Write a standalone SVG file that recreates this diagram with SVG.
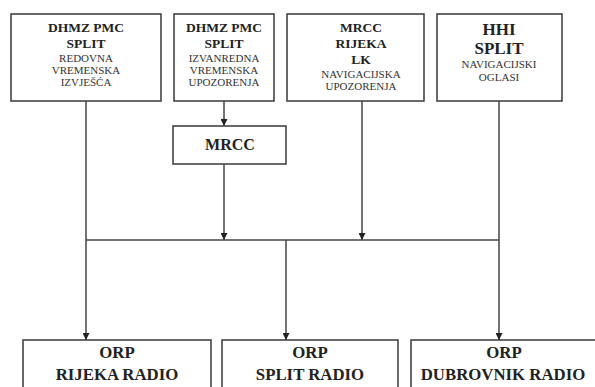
<svg xmlns="http://www.w3.org/2000/svg" width="595" height="387" viewBox="0 0 595 387">
<style>
.box{fill:#fff;stroke:#444;stroke-width:1.6}
.t{font-family:"Liberation Serif",serif;font-weight:bold;fill:#222;text-anchor:middle}
.b{font-size:13.5px}
.s{font-size:11px;font-weight:normal;fill:#333}
.r{font-size:16.8px}
.c{stroke:#444;stroke-width:1.5;fill:none}
</style>
<defs>
<marker id="ah" viewBox="0 0 10 10" refX="10" refY="5" markerWidth="7" markerHeight="7" orient="auto" markerUnits="userSpaceOnUse">
<path d="M0,0 L10,5 L0,10 Z" fill="#222"/>
</marker>
</defs>
<rect width="595" height="387" fill="#fff"/>
<g id="n1">
<rect class="box" x="11" y="14" width="150" height="87"/>
<text class="t b" x="86" y="32">DHMZ PMC</text>
<text class="t b" x="86" y="48">SPLIT</text>
<text class="t s" x="86" y="62">REDOVNA</text>
<text class="t s" x="86" y="74">VREMENSKA</text>
<text class="t s" x="86" y="86">IZVJEŠĆA</text>
</g>
<g id="n2">
<rect class="box" x="174" y="14" width="100" height="87"/>
<text class="t b" x="224" y="32">DHMZ PMC</text>
<text class="t b" x="224" y="48">SPLIT</text>
<text class="t s" x="224" y="62">IZVANREDNA</text>
<text class="t s" x="224" y="74">VREMENSKA</text>
<text class="t s" x="224" y="86">UPOZORENJA</text>
</g>
<g id="n3">
<rect class="box" x="287" y="14" width="137" height="87"/>
<text class="t b" x="361" y="32">MRCC</text>
<text class="t b" x="361" y="48">RIJEKA</text>
<text class="t b" x="361" y="64">LK</text>
<text class="t s" x="361" y="78">NAVIGACIJSKA</text>
<text class="t s" x="361" y="90">UPOZORENJA</text>
</g>
<g id="n4">
<rect class="box" x="437" y="14" width="125" height="87"/>
<text class="t" style="font-size:17px" x="499" y="35">HHI</text>
<text class="t" style="font-size:17px" x="499" y="54">SPLIT</text>
<text class="t s" x="499" y="68">NAVIGACIJSKI</text>
<text class="t s" x="499" y="81">OGLASI</text>
</g>
<g id="mrcc">
<rect class="box" x="173" y="126" width="113" height="38"/>
<text class="t" style="font-size:16px" x="230" y="150">MRCC</text>
</g>
<g id="r1">
<rect class="box" x="23" y="340" width="188" height="60"/>
<text class="t r" x="117" y="358">ORP</text>
<text class="t r" x="117" y="380">RIJEKA RADIO</text>
</g>
<g id="r2">
<rect class="box" x="222" y="340" width="176" height="60"/>
<text class="t r" x="310" y="358">ORP</text>
<text class="t r" x="310" y="380">SPLIT RADIO</text>
</g>
<g id="r3">
<rect class="box" x="411" y="340" width="200" height="60"/>
<text class="t r" x="504" y="358">ORP</text>
<text class="t r" x="503" y="380">DUBROVNIK RADIO</text>
</g>
<g id="connectors">
<line class="c" x1="224" y1="101" x2="224" y2="126" marker-end="url(#ah)"/>
<line class="c" x1="224" y1="164" x2="224" y2="240" marker-end="url(#ah)"/>
<line class="c" x1="362" y1="101" x2="362" y2="240" marker-end="url(#ah)"/>
<line class="c" x1="86" y1="101" x2="86" y2="340" marker-end="url(#ah)"/>
<line class="c" x1="499" y1="101" x2="499" y2="340" marker-end="url(#ah)"/>
<line class="c" x1="86" y1="240" x2="499" y2="240"/>
<line class="c" x1="286" y1="240" x2="286" y2="340" marker-end="url(#ah)"/>
</g>
</svg>
